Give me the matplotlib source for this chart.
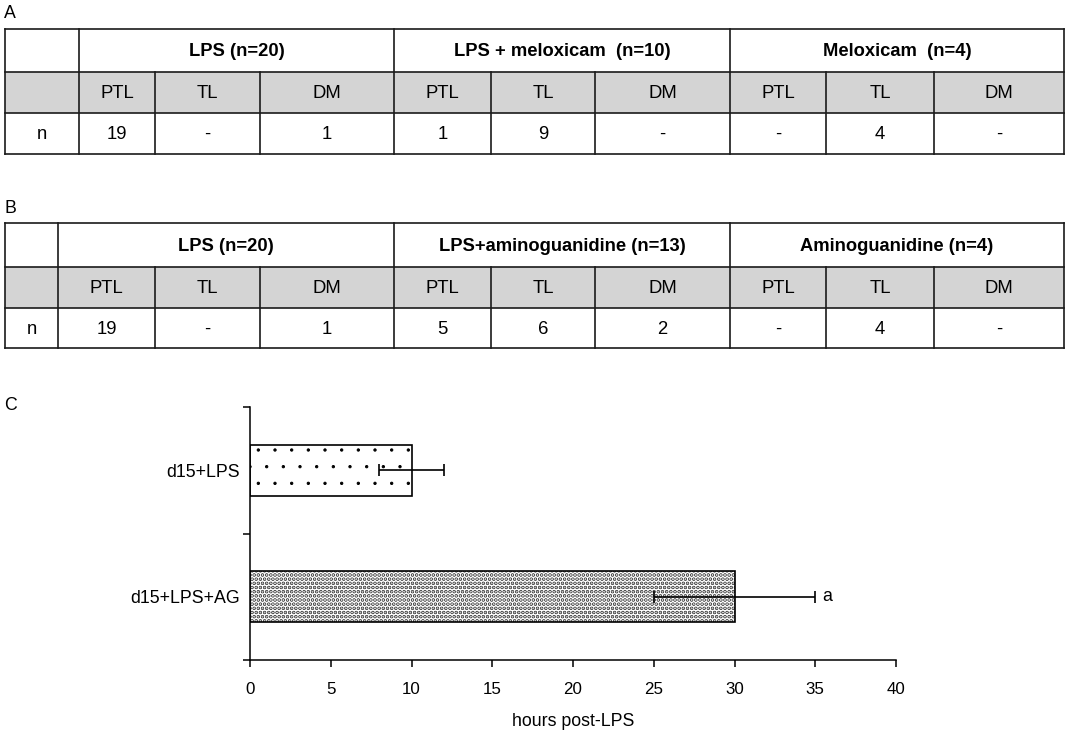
import numpy as np
import matplotlib
matplotlib.use('Agg')
import matplotlib.pyplot as plt
import matplotlib.hatch
from matplotlib.patches import Rectangle

plt.rcParams['font.family'] = ['Liberation Sans', 'DejaVu Sans']
plt.rcParams['hatch.linewidth'] = 0.9
matplotlib.hatch.SmallFilledCircles.size = 0.07  # smaller dots

# table data
sub_cols = ['PTL', 'TL', 'DM']
groups_a = ['LPS (n=20)', 'LPS + meloxicam  (n=10)', 'Meloxicam  (n=4)']
counts_a = ['19', '-', '1', '1', '9', '-', '-', '4', '-']
groups_b = ['LPS (n=20)', 'LPS+aminoguanidine (n=13)', 'Aminoguanidine (n=4)']
counts_b = ['19', '-', '1', '5', '6', '2', '-', '4', '-']

# bar chart data
bar_labels = ['d15+LPS', 'd15+LPS+AG']
bar_means = [10, 30]
bar_err = [2, 5]
bar_hatch = ['.', '....']
bar_hatch_lw = [0.7, 1.9]
bar_notes = ['', 'a']

W, H = 1069, 735
fig = plt.figure(figsize=(W / 100, H / 100), dpi=100)

# overlay axes in pixel units for the tables
ov = fig.add_axes([0, 0, 1, 1])
ov.set_xlim(0, W)
ov.set_ylim(H, 0)
ov.axis('off')

lc = '#1a1a1a'
gray = '#d4d4d4'
fs_head = 13.2
fs_cell = 13.3
fs_tick = 12.2
fs_lab = 12.8


def draw_table(xs, ys, groups, counts):
    # gray row
    ov.add_patch(Rectangle((xs[0], ys[1]), xs[-1] - xs[0], ys[2] - ys[1],
                           facecolor=gray, edgecolor='none'))
    # horizontal lines
    for y in ys:
        ov.plot([xs[0], xs[-1]], [y, y], color=lc, lw=1.2)
    # vertical lines
    for i, x in enumerate(xs):
        if i in (0, 1, 4, 7, 10):
            ov.plot([x, x], [ys[0], ys[-1]], color=lc, lw=1.2)
        else:
            ov.plot([x, x], [ys[1], ys[-1]], color=lc, lw=1.2)
    # header
    for g, name in enumerate(groups):
        x0, x1 = xs[1 + 3 * g], xs[4 + 3 * g]
        ov.text((x0 + x1) / 2, (ys[0] + ys[1]) / 2 + 1, name, fontsize=fs_head,
                fontweight='bold', ha='center', va='center')
    for j in range(9):
        xc = (xs[j + 1] + xs[j + 2]) / 2
        ov.text(xc, (ys[1] + ys[2]) / 2 + 1, sub_cols[j % 3], fontsize=fs_cell,
                ha='center', va='center')
        ov.text(xc, (ys[2] + ys[3]) / 2 + 1, counts[j], fontsize=fs_cell,
                ha='center', va='center')
    ov.text((xs[0] + xs[1]) / 2, (ys[2] + ys[3]) / 2 + 1, 'n', fontsize=fs_cell,
            ha='center', va='center')


draw_table([5, 79, 155, 260, 394, 491, 595, 730, 826, 934, 1064],
           [29, 72, 113, 154], groups_a, counts_a)
draw_table([5, 58, 155, 260, 394, 491, 595, 730, 826, 934, 1064],
           [223, 267, 308, 348], groups_b, counts_b)

ov.text(4, 13, 'A', fontsize=fs_lab, va='center', ha='left')
ov.text(4, 208, 'B', fontsize=fs_lab, va='center', ha='left')
ov.text(4, 405, 'C', fontsize=fs_lab, va='center', ha='left')

# bar chart
ax = fig.add_axes([250 / W, 1 - 660 / H, 646 / W, 253 / H])
pos = np.arange(len(bar_labels))
for i in range(len(pos)):
    bars = ax.barh(pos[i], bar_means[i], height=0.4, color='white',
                   edgecolor='black', linewidth=1.2, hatch=bar_hatch[i],
                   zorder=2)
    for b in bars:
        if hasattr(b, 'set_hatch_linewidth'):
            b.set_hatch_linewidth(bar_hatch_lw[i])
    ax.errorbar(bar_means[i], pos[i], xerr=bar_err[i], fmt='none',
                ecolor='black', elinewidth=1.2, capsize=4, capthick=1.2,
                zorder=3)
    if bar_notes[i]:
        ax.annotate(bar_notes[i], (bar_means[i] + bar_err[i], pos[i]),
                    xytext=(5, 0), textcoords='offset points',
                    fontsize=fs_lab, va='center', ha='left')

ax.set_xlim(0, 40)
ax.set_ylim(1.5, -0.5)
ax.set_xticks(np.arange(0, 41, 5))
ax.set_yticks([-0.5, 0.5, 1.5])
ax.set_yticklabels([])
ax.set_yticks(pos, minor=True)
ax.set_yticklabels(bar_labels, minor=True, fontsize=fs_lab)
ax.tick_params(axis='y', which='minor', length=0, pad=7)
ax.tick_params(axis='y', which='major', length=5, width=1.1)
ax.tick_params(axis='x', length=5, width=1.1, pad=11, labelsize=fs_tick)
ax.set_xlabel('hours post-LPS', fontsize=fs_lab, labelpad=11)
for s in ['top', 'right']:
    ax.spines[s].set_visible(False)
for s in ['left', 'bottom']:
    ax.spines[s].set_linewidth(1.1)

fig.savefig('out.png', dpi=100)
